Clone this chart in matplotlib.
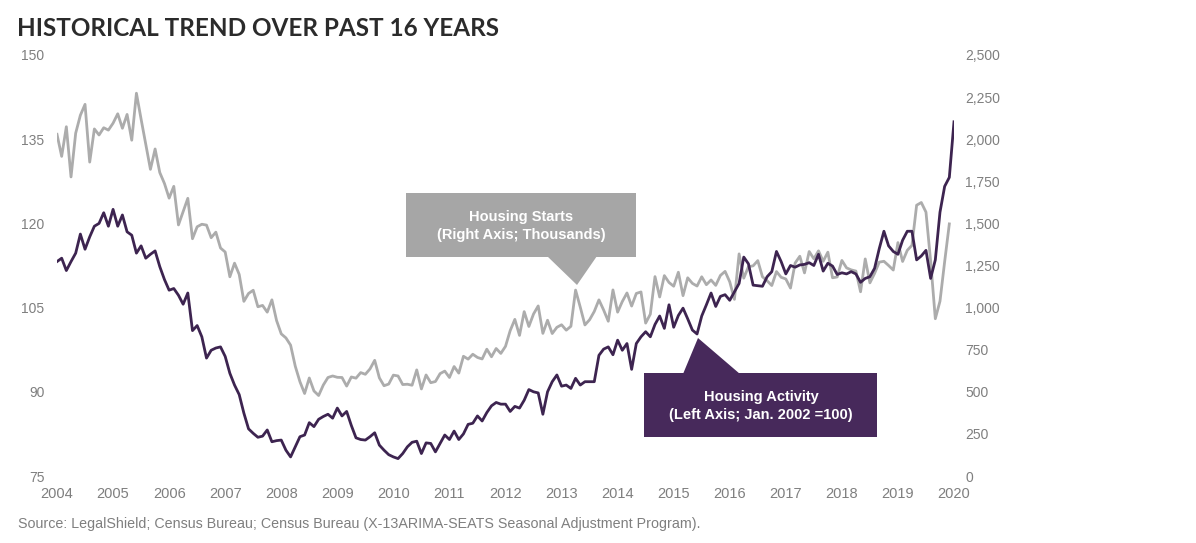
import numpy as np
import matplotlib
matplotlib.use("Agg")
import matplotlib.pyplot as plt
from matplotlib.patches import Rectangle, Polygon
from matplotlib.ticker import FuncFormatter

# housing starts, thousands (right axis), monthly
housing_starts = [
    2029, 1898, 2074, 1776, 2036,
    2142, 2207, 1864, 2061, 2025, 2068, 2054, 2095, 2151, 2065, 2147, 1994,
    2273, 2119, 1969, 1821, 1942, 1802, 1737, 1650, 1720, 1491, 1570, 1649,
    1409, 1480, 1495, 1490, 1415, 1448, 1354, 1330, 1183, 1264, 1197, 1037,
    1084, 1103, 1005, 1013, 973, 1046, 923, 844, 820, 777, 652, 560,
    490, 582, 505, 478, 540, 585, 594, 586, 585, 534, 588, 581,
    614, 604, 636, 687, 583, 536, 546, 599, 594, 543, 545, 539,
    630, 517, 600, 554, 561, 608, 623, 585, 650, 611, 711, 694,
    723, 704, 695, 753, 708, 757, 728, 770, 863, 930, 835, 976,
    888, 962, 1010, 847, 925, 846, 883, 898, 866, 889, 1104, 1003,
    897, 928, 977, 1046, 986, 919, 1105, 973, 1036, 1087, 1009, 1084,
    1093, 908, 961, 1184, 1063, 1190, 1149, 1127, 1210, 1071, 1177, 1144,
    1128, 1183, 1136, 1164, 1132, 1191, 1215, 1153, 1049, 1319, 1175, 1243,
    1248, 1279, 1183, 1159, 1131, 1214, 1180, 1170, 1116, 1265, 1305, 1206,
    1333, 1290, 1337, 1275, 1329, 1177, 1182, 1280, 1236, 1224, 1217, 1094,
    1289, 1147, 1203, 1270, 1275, 1250, 1223, 1386, 1274, 1340, 1370, 1608,
    1624, 1567, 1276, 934, 1038, 1273, 1497,
]

# housing activity index, Jan 2002 = 100 (left axis), monthly
housing_activity = [
    113.2, 113.8, 111.6, 113.2, 114.7, 118.1, 115.4, 117.6, 119.5, 120.0,
    121.9, 119.5, 122.5, 119.5, 121.5, 118.5, 117.9, 114.7, 116.0, 113.8,
    114.5, 115.1, 112.3, 110.0, 108.1, 108.4, 107.2, 105.6, 107.6, 100.9,
    101.8, 99.8, 96.0, 97.4, 97.8, 98.0, 96.3, 93.3, 91.2, 89.5,
    86.2, 83.4, 82.6, 81.9, 82.1, 83.2, 81.1, 81.3, 81.4, 79.6,
    78.4, 80.2, 82.0, 82.3, 84.5, 83.8, 85.1, 85.6, 86.0, 85.3,
    87.1, 85.7, 86.5, 84.0, 81.8, 81.5, 81.4, 82.0, 82.7, 80.5,
    79.6, 78.8, 78.4, 78.1, 79.0, 80.2, 81.0, 81.2, 79.0, 80.9,
    80.8, 79.3, 80.8, 82.3, 81.5, 83.0, 81.5, 82.5, 84.2, 84.4,
    85.7, 84.8, 86.3, 87.5, 88.1, 87.8, 87.8, 86.5, 87.4, 87.1,
    88.5, 90.4, 90.0, 89.8, 86.0, 90.0, 91.8, 93.0, 91.0, 91.2,
    90.6, 92.4, 91.2, 91.8, 91.8, 91.8, 96.5, 97.6, 98.0, 96.6,
    99.2, 97.4, 98.6, 94.0, 98.6, 99.8, 100.7, 99.8, 102.0, 103.5,
    101.3, 105.5, 101.5, 103.6, 104.9, 103.0, 101.0, 100.3, 103.5, 105.5,
    107.6, 105.2, 107.0, 107.3, 106.3, 107.8, 109.3, 114.0, 112.8, 109.0,
    108.9, 108.8, 110.5, 111.4, 115.0, 113.2, 111.0, 112.5, 112.2, 112.6,
    112.7, 113.0, 112.5, 114.5, 111.5, 112.9, 112.4, 110.9, 111.2, 111.0,
    111.4, 111.0, 109.5, 110.2, 110.5, 112.0, 115.5, 118.6, 116.0, 115.0,
    114.5, 117.0, 118.6, 118.6, 113.5, 114.2, 115.2, 110.2, 113.5, 122.0,
    126.6, 128.2, 138.1,
]

years = list(range(2004, 2021))
left_ticks = [75, 90, 105, 120, 135, 150]
right_ticks = list(range(0, 2501, 250))

W, H = 1196, 543
purple = '#3d2450'
purple_box = '#47295b'
grey = '#acacac'
grey_box = '#a6a6a6'
label_col = '#7f7f7f'
narrow = ['Liberation Sans Narrow', 'Liberation Sans', 'DejaVu Sans']

def fx(x):
    return x / W

def fy(y):
    return 1 - y / H

fig = plt.figure(figsize=(W / 100, H / 100), dpi=100)
ax = fig.add_axes([fx(57), fy(476), (954 - 57) / W, (476 - 55) / H])
ax2 = ax.twinx()

x_starts = 2004 + np.arange(len(housing_starts)) / 12
x_act = 2004 + np.arange(len(housing_activity)) / 12

ax2.plot(x_starts, housing_starts, color=grey, lw=2.0, solid_joinstyle='round')
ax.plot(x_act, housing_activity, color=purple, lw=2.0, solid_joinstyle='round')
ax.set_zorder(ax2.get_zorder() + 1)
ax.patch.set_visible(False)

ax.set_xlim(2004, 2020)
ax.set_ylim(75, 150)
ax2.set_ylim(0, 2500)
ax.set_xticks(years)
ax.set_yticks(left_ticks)
ax2.set_yticks(right_ticks)
ax2.yaxis.set_major_formatter(FuncFormatter(lambda v, p: '{:,.0f}'.format(v)))

for a in (ax, ax2):
    for s in a.spines.values():
        s.set_visible(False)
    a.tick_params(length=0, colors=label_col)

ax.tick_params(axis='y', pad=9, labelsize=10)
ax2.tick_params(axis='y', pad=8, labelsize=10)
ax.tick_params(axis='x', pad=8, labelsize=10.5)
for lab in ax.get_yticklabels() + ax2.get_yticklabels():
    lab.set_family('Liberation Sans')
for lab in ax.get_xticklabels():
    lab.set_family(narrow)

# callout: housing starts
fig.add_artist(Rectangle((fx(406), fy(257)), (636 - 406) / W, (257 - 193) / H,
                         transform=fig.transFigure, color=grey_box, lw=0))
fig.add_artist(Polygon([(fx(547), fy(256)), (fx(597), fy(256)), (fx(577), fy(285))],
                       closed=True, transform=fig.transFigure, color=grey_box, lw=0))
fig.text(fx(521), fy(226), 'Housing Starts\n(Right Axis; Thousands)', ha='center', va='center',
         color='white', fontsize=10.5, fontweight='bold', family='Liberation Sans', linespacing=1.4)

# callout: housing activity
fig.add_artist(Rectangle((fx(644), fy(437)), (877 - 644) / W, (437 - 373) / H,
                         transform=fig.transFigure, color=purple_box, lw=0))
fig.add_artist(Polygon([(fx(683), fy(374)), (fx(740), fy(374)), (fx(698), fy(338))],
                       closed=True, transform=fig.transFigure, color=purple_box, lw=0))
fig.text(fx(761), fy(406), 'Housing Activity\n(Left Axis; Jan. 2002 =100)', ha='center', va='center',
         color='white', fontsize=10.5, fontweight='bold', family='Liberation Sans', linespacing=1.4)

fig.text(fx(17), fy(28), 'HISTORICAL TREND OVER PAST 16 YEARS', ha='left', va='center',
         fontsize=17.5, fontweight='bold', family='Lato', color='#2b2b2b')
fig.text(fx(18), fy(524), 'Source: LegalShield; Census Bureau; Census Bureau (X-13ARIMA-SEATS Seasonal Adjustment Program).',
         ha='left', va='center', fontsize=10.3, family=narrow, color=label_col)

fig.savefig('out.png', dpi=100)
